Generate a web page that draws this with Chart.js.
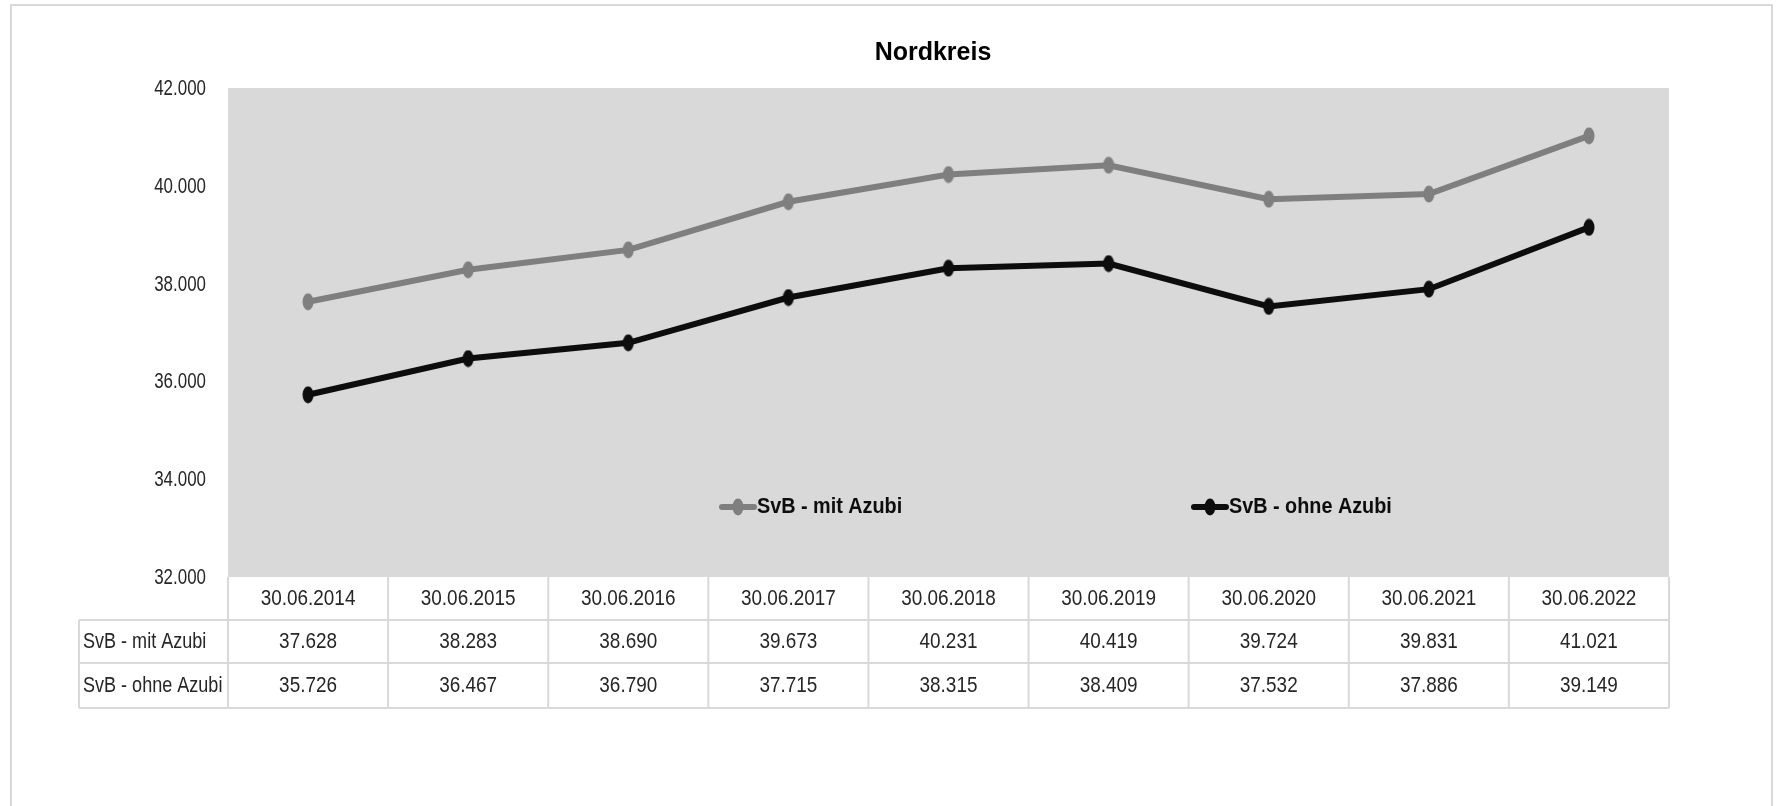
<!DOCTYPE html>
<html>
<head>
<meta charset="utf-8">
<script src="https://cdn.jsdelivr.net/npm/chart.js@4.4.0/dist/chart.umd.min.js"></script>
<style>
  html, body { margin: 0; padding: 0; background: #fff; }
  #wrap { width: 1776px; height: 806px; position: relative; }
</style>
</head>
<body>
<div id="wrap"><canvas id="chart" width="1776" height="806"></canvas></div>
<script>
// Daten
const stichtage = ["30.06.2014", "30.06.2015", "30.06.2016", "30.06.2017", "30.06.2018",
                   "30.06.2019", "30.06.2020", "30.06.2021", "30.06.2022"];
const mitAzubi = [37628, 38283, 38690, 39673, 40231, 40419, 39724, 39831, 41021];
const ohneAzubi = [35726, 36467, 36790, 37715, 38315, 38409, 37532, 37886, 39149];
const serienNamen = ["SvB - mit Azubi", "SvB - ohne Azubi"];
const titel = "Nordkreis";
const yMin = 32000, yMax = 42000, yStep = 2000;

const FONT = "'Liberation Sans', Arial, sans-serif";
const TXT = "#262626";
const GRID = "#d9d9d9";

// Zahl im deutschen Format (Tausenderpunkt)
function fmt(v) {
    return String(Math.round(v)).replace(/\B(?=(\d{3})+(?!\d))/g, ".");
}

// schmale Schrift nachbilden: horizontal gestauchter Text
function narrowText(ctx, text, x, y, align, font, sx, color) {
    ctx.save();
    ctx.translate(x, y);
    ctx.scale(sx, 1);
    ctx.font = font;
    ctx.fillStyle = color || TXT;
    ctx.textAlign = align;
    ctx.textBaseline = "middle";
    ctx.fillText(text, 0, 0);
    ctx.restore();
}

// Punktsymbol (hochgezogene Ellipse wie im Original)
function marker(color) {
    const c = document.createElement("canvas");
    c.width = 12; c.height = 18;
    const g = c.getContext("2d");
    g.fillStyle = color;
    g.beginPath();
    g.ellipse(6, 9, 5.5, 8.5, 0, 0, Math.PI * 2);
    g.fill();
    return c;
}

const farben = ["#7f7f7f", "#0d0d0d"];

// Rahmen, Hintergrund, Achsenbeschriftung, Tabelle und Legende
const tablePlugin = {
    id: "tablePlugin",
    beforeDraw(chart) {
        const { ctx, chartArea: a } = chart;
        ctx.save();
        ctx.fillStyle = "#fff";
        ctx.fillRect(0, 0, chart.width, chart.height);
        ctx.strokeStyle = GRID;
        ctx.lineWidth = 2;
        ctx.strokeRect(11, 5, 1761, 830);
        ctx.fillStyle = "#d9d9d9";
        ctx.fillRect(a.left, a.top, a.right - a.left, a.bottom - a.top);
        ctx.restore();
    },
    afterDraw(chart) {
        const { ctx, chartArea: a } = chart;
        const x = chart.scales.x;
        const y = chart.scales.y;
        const colW = (a.right - a.left) / stichtage.length;
        const rows = [a.bottom, 620, 663, 708];
        const labelLeft = 79;

        // Titel
        narrowText(ctx, titel, 933, 53, "center", "bold 25px " + FONT, 1.0, "#000");

        // y-Achse
        y.ticks.forEach(t => {
            narrowText(ctx, fmt(t.value), 206, y.getPixelForValue(t.value) + 1, "right", "22px " + FONT, 0.77);
        });

        ctx.save();
        ctx.strokeStyle = GRID;
        ctx.lineWidth = 2;
        // horizontale Linien
        for (let r = 1; r < rows.length; r++) {
            ctx.beginPath();
            ctx.moveTo(labelLeft, rows[r]);
            ctx.lineTo(a.right, rows[r]);
            ctx.stroke();
        }
        // vertikale Linien
        for (let i = 0; i <= stichtage.length; i++) {
            const px = a.left + i * colW;
            ctx.beginPath();
            ctx.moveTo(px, rows[0]);
            ctx.lineTo(px, rows[3]);
            ctx.stroke();
        }
        ctx.beginPath();
        ctx.moveTo(labelLeft, rows[1]);
        ctx.lineTo(labelLeft, rows[3]);
        ctx.stroke();
        ctx.restore();

        // Kopfzeile mit Stichtagen
        chart.data.labels.forEach((lab, i) => {
            narrowText(ctx, lab, x.getPixelForValue(i), (rows[0] + rows[1]) / 2, "center", "22px " + FONT, 0.86);
        });

        // Tabelleninhalt
        [mitAzubi, ohneAzubi].forEach((serie, r) => {
            const cy = (rows[r + 1] + rows[r + 2]) / 2;
            narrowText(ctx, serienNamen[r], 83, cy, "left", "22px " + FONT, 0.82);
            serie.forEach((v, i) => {
                narrowText(ctx, fmt(v), x.getPixelForValue(i), cy, "center", "22px " + FONT, 0.86);
            });
        });

        // Legende im Diagramm
        const legY = 507;
        const legX = [722, 1194];
        ctx.save();
        chart.data.datasets.forEach((ds, i) => {
            const lx = legX[i];
            ctx.strokeStyle = ds.borderColor;
            ctx.lineWidth = 6;
            ctx.lineCap = "round";
            ctx.beginPath();
            ctx.moveTo(lx, legY);
            ctx.lineTo(lx + 32, legY);
            ctx.stroke();
            ctx.drawImage(ds.pointStyle, lx + 16 - 6, legY - 9);
            narrowText(ctx, ds.label, lx + 35, legY, "left", "bold 22px " + FONT, 0.9, "#0d0d0d");
        });
        ctx.restore();
    }
};

new Chart(document.getElementById("chart"), {
    type: "line",
    data: {
        labels: stichtage,
        datasets: [
            {
                label: serienNamen[0],
                data: mitAzubi,
                borderColor: farben[0],
                backgroundColor: farben[0],
                borderWidth: 6,
                pointStyle: marker(farben[0]),
                pointRadius: 7,
                tension: 0
            },
            {
                label: serienNamen[1],
                data: ohneAzubi,
                borderColor: farben[1],
                backgroundColor: farben[1],
                borderWidth: 6,
                pointStyle: marker(farben[1]),
                pointRadius: 7,
                tension: 0
            }
        ]
    },
    options: {
        responsive: false,
        animation: false,
        layout: { padding: { left: 0, right: 107, top: 88, bottom: 0 } },
        plugins: {
            legend: { display: false },
            tooltip: { enabled: false },
            title: { display: false }
        },
        scales: {
            x: {
                offset: true,
                grid: { display: false, drawTicks: false },
                border: { display: false },
                ticks: { display: false, autoSkip: false },
                afterFit(scale) { scale.height = 229; }
            },
            y: {
                min: yMin,
                max: yMax,
                grid: { display: false, drawTicks: false },
                border: { display: false },
                ticks: { display: false, stepSize: yStep },
                afterFit(scale) { scale.width = 228; }
            }
        }
    },
    plugins: [tablePlugin]
});
</script>
</body>
</html>
